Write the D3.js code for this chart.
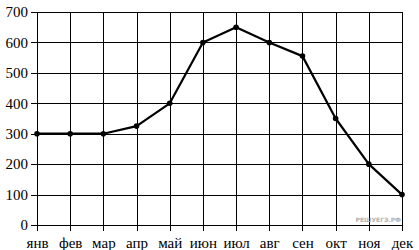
<!DOCTYPE html>
<html>
<head>
<meta charset="utf-8">
<script src="https://cdn.jsdelivr.net/npm/d3@7"></script>
<style>
  body { margin: 0; background: #fff; }
  svg { display: block; }
  .axis text { font-family: "Liberation Serif", "Times New Roman", serif; font-size: 15px; fill: #000; }
</style>
</head>
<body>
<div id="chart"></div>
<script>
var months = ['янв', 'фев', 'мар', 'апр', 'май', 'июн', 'июл', 'авг', 'сен', 'окт', 'ноя', 'дек'];
var values = [300, 300, 300, 325, 400, 600, 650, 600, 555, 350, 200, 100];
var yTicks = [0, 100, 200, 300, 400, 500, 600, 700];

var margin = { top: 12, right: 17, bottom: 25, left: 37 };
var width = 419 - margin.left - margin.right;
var height = 250 - margin.top - margin.bottom;

var x = d3.scalePoint().domain(months).range([0, width]);
var y = d3.scaleLinear().domain([0, 700]).range([height, 0]);

var svg = d3.select('#chart').append('svg')
    .attr('width', 419)
    .attr('height', 250);
var g = svg.append('g')
    .attr('transform', 'translate(' + margin.left + ',' + margin.top + ')');

// grid + axes
var yAxis = d3.axisLeft(y)
    .tickValues(yTicks)
    .tickSize(-width)
    .tickPadding(9)
    .tickFormat(d3.format('d'));
var xAxis = d3.axisBottom(x)
    .tickSize(-height)
    .tickPadding(10);

var gy = g.append('g').attr('class', 'axis axis--y').call(yAxis);
var gx = g.append('g').attr('class', 'axis axis--x')
    .attr('transform', 'translate(0,' + height + ')')
    .call(xAxis);

g.selectAll('.domain').remove();

// small outer tick stubs
gy.selectAll('.tick').append('line')
    .attr('x1', -6).attr('x2', 0);
gx.selectAll('.tick').append('line')
    .attr('y1', 0).attr('y2', 6);

g.selectAll('.tick line')
    .attr('stroke', '#000')
    .attr('stroke-width', 1)
    .attr('shape-rendering', 'crispEdges');

gx.selectAll('.tick text').attr('dy', '0.85em');

var line = d3.line()
    .x(function(d, i) { return x(months[i]); })
    .y(function(d) { return y(d); });

g.append('path')
    .datum(values)
    .attr('fill', 'none')
    .attr('stroke', '#000')
    .attr('stroke-width', 2.2)
    .attr('stroke-linejoin', 'round')
    .attr('d', line);

g.selectAll('.pt')
    .data(values)
    .enter().append('circle')
    .attr('class', 'pt')
    .attr('cx', function(d, i) { return x(months[i]); })
    .attr('cy', function(d) { return y(d); })
    .attr('r', 2.8)
    .attr('fill', '#000');

g.append('text')
    .attr('x', width - 1)
    .attr('y', height - 3)
    .attr('text-anchor', 'end')
    .attr('font-family', 'DejaVu Sans, sans-serif')
    .attr('font-size', 6)
    .attr('font-weight', 'bold')
    .attr('fill', '#b0b0b0')
    .text('РЕШУЕГЭ.РФ');
</script>
</body>
</html>
